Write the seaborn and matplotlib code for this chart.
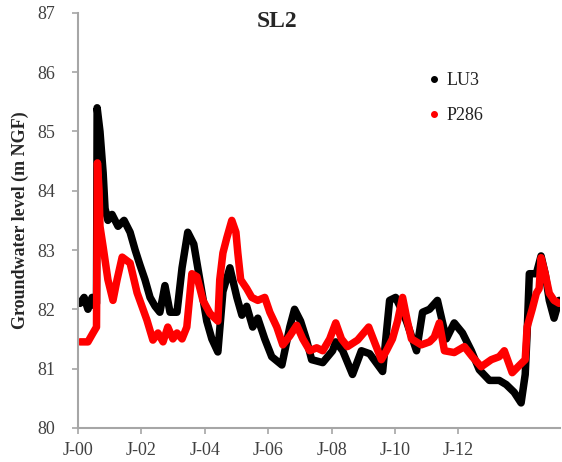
import matplotlib
matplotlib.use('Agg')
import matplotlib.pyplot as plt
from matplotlib.lines import Line2D
import seaborn as sns
import pandas as pd

# decimal years / groundwater level (m NGF)
lu3_year = [2000.06, 2000.19, 2000.31, 2000.44, 2000.54, 2000.58, 2000.60, 2000.69, 2000.79,
            2000.85, 2000.94, 2001.07, 2001.26, 2001.45, 2001.64, 2001.80, 2001.95, 2002.11,
            2002.27, 2002.43, 2002.58, 2002.74, 2002.90, 2003.12, 2003.28, 2003.46, 2003.65,
            2003.84, 2004.06, 2004.22, 2004.41, 2004.57, 2004.79, 2005.01, 2005.17, 2005.32,
            2005.51, 2005.67, 2005.89, 2006.11, 2006.43, 2006.68, 2006.83, 2007.02, 2007.21,
            2007.37, 2007.72, 2008.03, 2008.13, 2008.35, 2008.66, 2008.94, 2009.20, 2009.61,
            2009.83, 2010.02, 2010.20, 2010.36, 2010.68, 2010.87, 2011.09, 2011.34, 2011.62,
            2011.87, 2012.13, 2012.41, 2012.66, 2012.98, 2013.29, 2013.51, 2013.76, 2013.98,
            2014.11, 2014.17, 2014.24, 2014.46, 2014.61, 2014.74, 2014.87, 2015.02, 2015.18]
lu3_level = [82.10, 82.20, 82.00, 82.20, 82.05, 82.10, 85.40, 85.00, 84.30,
             83.70, 83.50, 83.60, 83.40, 83.50, 83.30, 83.00, 82.75, 82.50,
             82.20, 82.05, 81.95, 82.40, 81.95, 81.95, 82.70, 83.30, 83.10,
             82.50, 81.80, 81.50, 81.28, 82.30, 82.70, 82.20, 81.90, 82.05,
             81.70, 81.85, 81.50, 81.20, 81.06, 81.70, 82.00, 81.80, 81.48,
             81.15, 81.10, 81.30, 81.45, 81.30, 80.90, 81.30, 81.25, 80.95,
             82.15, 82.20, 82.00, 81.80, 81.30, 81.95, 82.00, 82.15, 81.50,
             81.77, 81.60, 81.30, 80.98, 80.80, 80.80, 80.73, 80.60, 80.42,
             80.90, 81.60, 82.60, 82.60, 82.90, 82.60, 82.15, 81.85, 82.15]

p286_year = [2000.06, 2000.31, 2000.47, 2000.58, 2000.61, 2000.66, 2000.69, 2000.79, 2000.94,
             2001.10, 2001.23, 2001.39, 2001.64, 2001.86, 2002.17, 2002.36, 2002.52, 2002.68,
             2002.83, 2002.99, 2003.12, 2003.28, 2003.43, 2003.59, 2003.75, 2003.94, 2004.16,
             2004.41, 2004.47, 2004.57, 2004.69, 2004.85, 2004.98, 2005.04, 2005.13, 2005.32,
             2005.48, 2005.67, 2005.89, 2006.05, 2006.27, 2006.46, 2006.68, 2006.90, 2007.09,
             2007.31, 2007.53, 2007.72, 2007.94, 2008.13, 2008.31, 2008.50, 2008.82, 2009.17,
             2009.35, 2009.57, 2009.73, 2009.92, 2010.08, 2010.24, 2010.39, 2010.52, 2010.83,
             2011.09, 2011.24, 2011.40, 2011.56, 2011.87, 2012.19, 2012.44, 2012.72, 2013.04,
             2013.29, 2013.45, 2013.70, 2013.92, 2014.11, 2014.17, 2014.33, 2014.46, 2014.55,
             2014.61, 2014.74, 2014.87, 2015.02, 2015.18]
p286_level = [81.45, 81.45, 81.60, 81.70, 84.47, 84.00, 83.40, 83.05, 82.50,
              82.15, 82.50, 82.88, 82.78, 82.28, 81.82, 81.48, 81.60, 81.45,
              81.70, 81.50, 81.60, 81.50, 81.70, 82.60, 82.55, 82.15, 81.93,
              81.80, 82.50, 82.95, 83.20, 83.50, 83.30, 82.95, 82.50, 82.35,
              82.20, 82.15, 82.20, 81.95, 81.70, 81.40, 81.55, 81.73, 81.50,
              81.30, 81.35, 81.30, 81.50, 81.77, 81.50, 81.37, 81.48, 81.70,
              81.45, 81.15, 81.30, 81.50, 81.80, 82.20, 81.80, 81.50, 81.40,
              81.45, 81.53, 81.77, 81.30, 81.27, 81.37, 81.20, 81.03, 81.15,
              81.20, 81.30, 80.93, 81.05, 81.15, 81.70, 82.00, 82.27, 82.35,
              82.87, 82.60, 82.27, 82.15, 82.10]

series_names = ['LU3', 'P286']
series_colors = ['#000000', '#ff0000']
tick_years = [2000, 2002, 2004, 2006, 2008, 2010, 2012]
tick_labels = ['J-00', 'J-02', 'J-04', 'J-06', 'J-08', 'J-10', 'J-12']

df = pd.concat([
    pd.DataFrame({'year': lu3_year, 'level': lu3_level, 'well': 'LU3'}),
    pd.DataFrame({'year': p286_year, 'level': p286_level, 'well': 'P286'}),
])

sns.set_style('white')
plt.rcParams['font.family'] = ['Liberation Serif', 'DejaVu Serif']

fig = plt.figure(figsize=(5.62, 4.62), dpi=100)
ax = fig.add_axes([0.139, 0.074, 0.857, 0.898])

sns.lineplot(data=df, x='year', y='level', hue='well', hue_order=series_names,
             palette=series_colors, linewidth=5.4, sort=False, estimator=None,
             legend=False, ax=ax, solid_capstyle='round', solid_joinstyle='round')

ax.set_xlim(2000, 2015.2)
ax.set_ylim(80, 87)
ax.set_xticks(tick_years)
ax.set_xticklabels(tick_labels)
ax.set_yticks(range(80, 88))
ax.set_xlabel('')
ax.set_ylabel('Groundwater level (m NGF)', fontsize=13, fontweight='bold', labelpad=6)

for side in ['top', 'right']:
    ax.spines[side].set_visible(False)
for side in ['left', 'bottom']:
    ax.spines[side].set_color('#a6a6a6')
    ax.spines[side].set_linewidth(1.5)
ax.tick_params(direction='out', length=4.5, width=1.2, color='#a6a6a6',
               labelsize=13, labelcolor='#404040', left=True, bottom=True)
ax.tick_params(axis='y', pad=12)
ax.tick_params(axis='x', pad=6)

ax.text(0.413, 0.98, 'SL2', transform=ax.transAxes, ha='center', va='center',
        fontsize=17, fontweight='bold')

handles = [Line2D([], [], linestyle='none', marker='o', markersize=4, color=c)
           for c in series_colors]
ax.legend(handles, series_names, loc='center left', bbox_to_anchor=(0.694, 0.795),
          frameon=False, fontsize=13, handlelength=0.6, handletextpad=0.4,
          labelspacing=1.0, labelcolor='#202020')

fig.savefig('out.png', dpi=100)
